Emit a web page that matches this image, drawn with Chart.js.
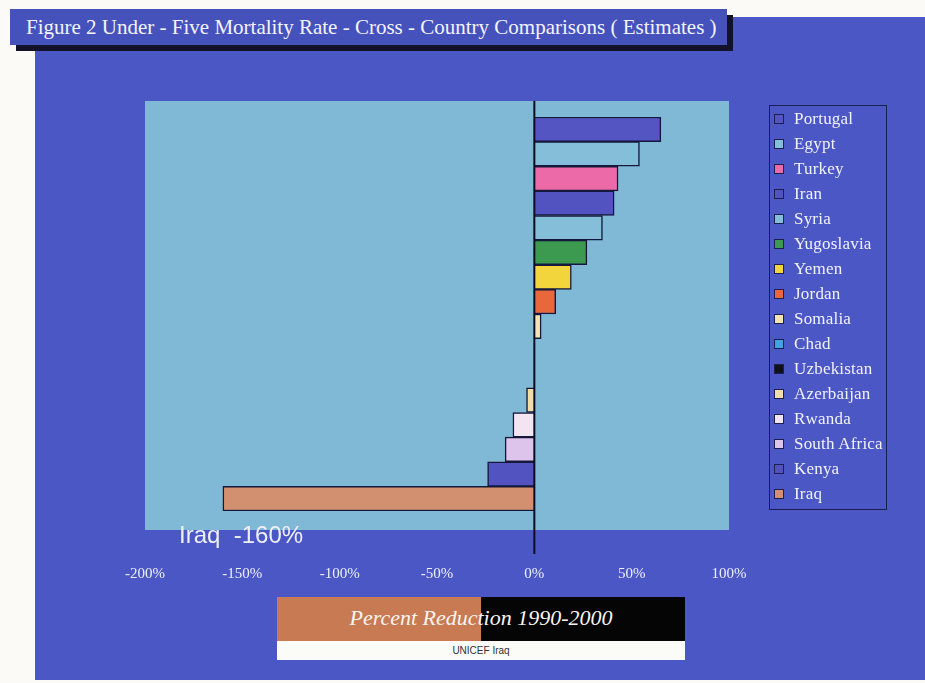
<!DOCTYPE html>
<html>
<head>
<meta charset="utf-8">
<script src="https://cdn.jsdelivr.net/npm/chart.js@4.4.1/dist/chart.umd.min.js"></script>
<style>
  html, body { margin: 0; padding: 0; }
  body { width: 925px; height: 683px; position: relative; overflow: hidden; background: #fbfaf6; }
  #panel { position: absolute; left: 35px; top: 17px; width: 890px; height: 663px; background: #4b57c5; }
  #title {
    position: absolute; left: 10px; top: 9px; width: 717px; height: 36px;
    background: #4652bc; box-shadow: 6px 6px 0 #12122a;
    color: #f4f4ff; font-family: "Liberation Serif", "DejaVu Serif", serif; font-size: 21px;
    line-height: 36px; padding-left: 16px; box-sizing: border-box; white-space: nowrap;
  }
  #chart { position: absolute; left: 0; top: 0; }
  #legend {
    position: absolute; left: 769px; top: 105px; width: 118px; height: 405px;
    border: 1px solid #1c1f50; box-sizing: border-box; padding-top: 0;
  }
  .item { height: 25px; display: flex; align-items: center; padding-left: 4px; white-space: nowrap;
    color: #f2f2fa; font-family: "Liberation Serif", "DejaVu Serif", serif; font-size: 17px; letter-spacing: 0.2px; }
  .sw { width: 8px; height: 8px; border: 1px solid #1c1f50; margin-right: 10px; flex: none; }
  #iraqNote { position: absolute; left: 179px; top: 521px; color: #eef0f8;
    font-family: "Liberation Sans", Arial, sans-serif; font-size: 24px; white-space: pre; }
  #caption { position: absolute; left: 277px; top: 597px; width: 408px; }
  #capTop { height: 44px; background: linear-gradient(to right, #c87a52 0, #c87a52 50%, #050505 50%, #050505 100%);
    color: #f8f4f0; font-family: "Liberation Serif", serif; font-style: italic; font-size: 22px;
    text-align: center; line-height: 42px; }
  #capBot { height: 19px; background: #fbfbf8; color: #333;
    font-family: "Liberation Sans", Arial, sans-serif; font-size: 10px; text-align: center; line-height: 19px; }
</style>
</head>
<body>
<div id="panel"></div>
<div id="title">Figure 2 Under - Five Mortality Rate - Cross - Country Comparisons ( Estimates )</div>
<canvas id="chart" width="925" height="683"></canvas>
<div id="legend"></div>
<div id="iraqNote">Iraq  -160%</div>
<div id="caption">
  <div id="capTop">Percent Reduction 1990-2000</div>
  <div id="capBot">UNICEF Iraq</div>
</div>
<script>
const countries = ['Portugal', 'Egypt', 'Turkey', 'Iran', 'Syria', 'Yugoslavia', 'Yemen', 'Jordan',
  'Somalia', 'Chad', 'Uzbekistan', 'Azerbaijan', 'Rwanda', 'South Africa', 'Kenya', 'Iraq'];
const reduction = [65, 54, 43, 41, 35, 27, 19, 11, 3.5, 0, 0, -4, -11, -15, -24, -160];
const barColors = ['#5454c2', '#84bed8', '#ec6aa8', '#5252c0', '#84bed8', '#3c9a50', '#f2d43c', '#e8683c',
  '#f4e2b0', '#3fa3e6', '#101018', '#f2dcaa', '#f2e4f0', '#dcc4ea', '#5252c0', '#d29070'];
const xTicks = [-200, -150, -100, -50, 0, 50, 100];

// legend box on the right
const legendEl = document.getElementById('legend');
countries.forEach(function(name, i) {
    const row = document.createElement('div');
    row.className = 'item';
    const sw = document.createElement('span');
    sw.className = 'sw';
    sw.style.background = barColors[i];
    row.appendChild(sw);
    row.appendChild(document.createTextNode(name));
    legendEl.appendChild(row);
});

// light blue plot panel (a bit taller than the bars) + zero line
const plotPanel = {
    id: 'plotPanel',
    beforeDatasetsDraw(chart) {
        const {ctx, chartArea} = chart;
        ctx.save();
        ctx.fillStyle = '#80b9d6';
        ctx.fillRect(chartArea.left, chartArea.top - 16, chartArea.right - chartArea.left, chartArea.bottom - chartArea.top + 35);
        ctx.restore();
    },
    afterDatasetsDraw(chart) {
        const {ctx, chartArea, scales} = chart;
        const x0 = scales.x.getPixelForValue(0);
        ctx.save();
        ctx.strokeStyle = '#0c0c20';
        ctx.lineWidth = 2;
        ctx.beginPath();
        ctx.moveTo(x0, chartArea.top - 16);
        ctx.lineTo(x0, chartArea.bottom + 43);
        ctx.stroke();
        ctx.restore();
    }
};

const ctx = document.getElementById('chart').getContext('2d');
new Chart(ctx, {
    type: 'bar',
    data: {
        labels: countries,
        datasets: [{
            data: reduction,
            backgroundColor: barColors,
            borderColor: '#15183a',
            borderWidth: 1.5,
            barPercentage: 1,
            categoryPercentage: 1
        }]
    },
    options: {
        indexAxis: 'y',
        responsive: false,
        animation: false,
        layout: { padding: { left: 145, top: 117, right: 196, bottom: 46 } },
        plugins: {
            legend: { display: false },
            tooltip: { enabled: false }
        },
        scales: {
            x: {
                min: -200,
                max: 100,
                afterBuildTicks: function(axis) {
                    axis.ticks = xTicks.map(v => ({ value: v }));
                },
                grid: { display: false, drawTicks: false },
                border: { display: false },
                ticks: {
                    padding: 54,
                    color: '#eef0fa',
                    font: { family: 'Liberation Serif', size: 15 },
                    callback: v => v + '%',
                    maxRotation: 0
                }
            },
            y: {
                display: false,
                offset: true
            }
        }
    },
    plugins: [plotPanel]
});
</script>
</body>
</html>
